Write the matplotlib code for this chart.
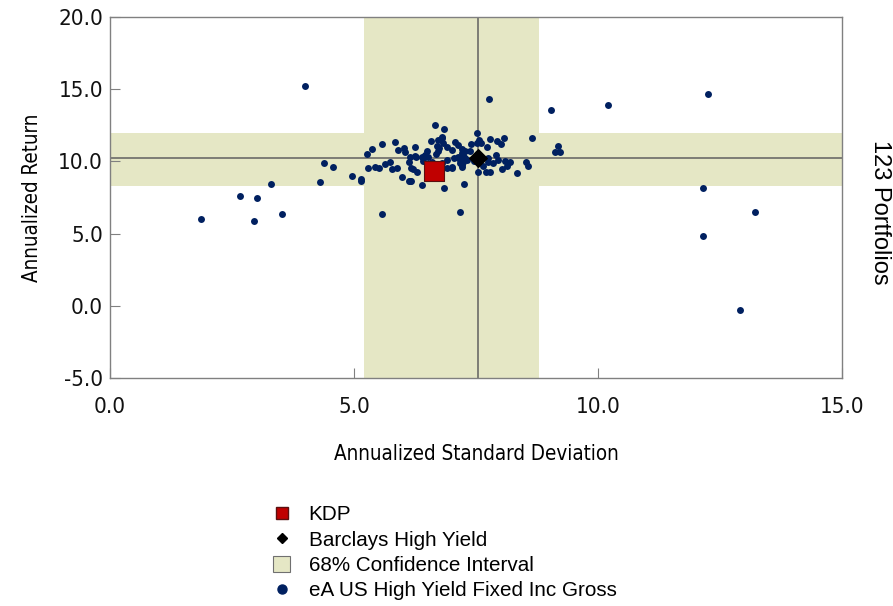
import matplotlib
matplotlib.use('agg')
import matplotlib.pyplot as plt
from matplotlib.lines import Line2D
from matplotlib.patches import Patch
from matplotlib import font_manager

plt.rcParams['font.family'] = ['Liberation Sans', 'DejaVu Sans']

# eA US High Yield Fixed Inc Gross universe (std dev, return)
peer_sd = [1.86, 2.66, 2.96, 3.02, 3.30, 3.52, 4.00, 4.30, 4.38, 4.57,
           4.95, 5.14, 5.57, 7.77, 9.03, 10.20, 12.25, 9.17, 9.11, 9.23,
           12.15, 13.21, 12.15, 12.90, 7.18, 5.26, 5.36, 5.57, 5.85, 5.91,
           6.03, 6.05, 6.24, 6.13, 6.24, 5.29, 5.42, 5.52, 5.64, 5.74,
           5.78, 5.89, 5.98, 6.17, 6.21, 6.13, 6.17, 6.65, 6.84, 6.57,
           6.73, 6.81, 6.71, 6.75, 6.72, 6.68, 6.50, 6.52, 6.27, 6.39,
           6.15, 6.30, 6.39, 6.84, 7.07, 7.14, 7.21, 7.27, 7.38, 7.00,
           7.04, 7.14, 7.17, 7.24, 7.24, 7.21, 7.27, 6.90, 7.00, 7.26,
           7.52, 7.56, 7.61, 7.55, 7.79, 7.92, 8.07, 8.01, 8.65, 7.72,
           7.90, 7.75, 7.84, 8.09, 8.20, 8.13, 8.03, 8.33, 8.52, 8.57,
           7.79, 7.70, 6.90, 6.80, 6.82, 6.80, 7.31, 7.22, 7.17, 7.00,
           7.21, 7.53, 7.75, 6.46, 6.15, 5.14, 6.42, 6.60, 7.45, 7.65,
           7.95, 6.90, 7.40]
peer_ret = [6.01, 7.63, 5.85, 7.44, 8.43, 6.36, 15.22, 8.57, 9.89, 9.59,
            8.97, 8.76, 6.34, 14.32, 13.56, 13.93, 14.65, 11.09, 10.63, 10.65,
            8.16, 6.48, 4.85, -0.27, 6.50, 10.53, 10.86, 11.18, 11.37, 10.81,
            10.95, 10.63, 11.00, 9.98, 10.35, 9.52, 9.59, 9.52, 9.82, 9.96,
            9.50, 9.52, 8.90, 9.52, 9.48, 8.67, 8.64, 12.52, 12.24, 11.43,
            11.50, 11.64, 11.09, 10.91, 10.74, 10.49, 10.72, 10.33, 10.33, 10.33,
            10.33, 9.24, 8.35, 8.14, 11.32, 11.11, 10.84, 10.74, 10.74, 10.79,
            10.22, 10.33, 10.10, 10.44, 9.98, 9.63, 10.22, 9.56, 9.56, 8.44,
            11.95, 11.48, 11.25, 9.29, 11.55, 11.41, 11.64, 11.18, 11.60, 11.00,
            10.44, 9.98, 9.87, 10.05, 9.98, 9.68, 9.45, 9.22, 9.98, 9.70,
            9.24, 9.30, 10.10, 11.71, 11.27, 9.87, 10.10, 9.75, 9.87, 9.63,
            10.56, 11.25, 10.22, 10.42, 8.64, 8.64, 10.05, 9.95, 10.05, 9.65,
            10.10, 11.00, 11.20]

kdp_sd, kdp_ret = 6.63, 9.34
bench_sd, bench_ret = 7.55, 10.24
ci_sd = (5.20, 8.79)
ci_ret = (8.30, 11.97)

band = '#E5E7C5'
navy = '#002060'

# condensed face for the axis text, if one is installed
names = {f.name for f in font_manager.fontManager.ttflist}
if 'Liberation Sans Narrow' in names:
    tick_font = dict(family='Liberation Sans Narrow', size=18)
    label_font = dict(family='Liberation Sans Narrow', size=17)
elif 'DejaVu Sans Condensed' in names or any(
        f.name == 'DejaVu Sans' and f.stretch == 'condensed' for f in font_manager.fontManager.ttflist):
    tick_font = dict(family='DejaVu Sans', stretch='condensed', size=16)
    label_font = dict(family='DejaVu Sans', stretch='condensed', size=14.8)
else:
    tick_font = dict(family='Liberation Sans', size=15.5)
    label_font = dict(family='Liberation Sans', size=15)

fig = plt.figure(figsize=(8.93, 6.06), dpi=100)
ax = fig.add_axes([0.1232, 0.3762, 0.8197, 0.5957])

ax.axvspan(ci_sd[0], ci_sd[1], color=band, lw=0, zorder=0)
ax.axhspan(ci_ret[0], ci_ret[1], color=band, lw=0, zorder=0)
ax.axvline(bench_sd, color='#606060', lw=1.1, zorder=1)
ax.axhline(bench_ret, color='#606060', lw=1.1, zorder=1)

ax.scatter(peer_sd, peer_ret, s=25, color=navy, lw=0, zorder=2)
ax.scatter([kdp_sd], [kdp_ret], marker='s', s=190, color='#C00000',
           edgecolor='#5a1010', lw=0.8, zorder=4)
ax.scatter([bench_sd], [bench_ret], marker='D', s=80, color='black', zorder=3)

ax.set_xlim(0, 15)
ax.set_ylim(-5, 20)
ax.set_xticks([0, 5, 10, 15])
ax.set_yticks([-5, 0, 5, 10, 15, 20])
ax.set_xticklabels(['%.1f' % v for v in [0, 5, 10, 15]])
ax.set_yticklabels(['%.1f' % v for v in [-5, 0, 5, 10, 15, 20]])

for lab in ax.get_xticklabels() + ax.get_yticklabels():
    lab.set_fontproperties(font_manager.FontProperties(**tick_font))
    lab.set_color('#111111')
ax.tick_params(axis='both', direction='in', length=7, color='#808080',
               top=False, right=False)
ax.tick_params(axis='x', pad=14)
ax.tick_params(axis='y', pad=5)
for sp in ax.spines.values():
    sp.set_color('#808080')
    sp.set_linewidth(1)

ax.set_xlabel('Annualized Standard Deviation',
              fontproperties=font_manager.FontProperties(**label_font), labelpad=19)
ax.set_ylabel('Annualized Return',
              fontproperties=font_manager.FontProperties(**label_font), labelpad=12)

fig.text(0.985, 0.650, '123 Portfolios', rotation=-90, ha='center', va='center',
         fontsize=17)

handles = [
    Line2D([], [], marker='s', ls='', color='#C00000', markeredgecolor='#5a1010', markersize=8),
    Line2D([], [], marker='D', ls='', color='black', markersize=5.5),
    Patch(facecolor=band, edgecolor='#707070', lw=0.8),
    Line2D([], [], marker='o', ls='', color=navy, markersize=6.5),
]
labels = ['KDP', 'Barclays High Yield', '68% Confidence Interval',
          'eA US High Yield Fixed Inc Gross']
fig.legend(handles, labels, loc='upper left', bbox_to_anchor=(0.297, 0.18),
           frameon=False, fontsize=14.9, handlelength=0.8, handleheight=0.8,
           handletextpad=0.9, labelspacing=0.3, borderaxespad=0)

fig.savefig('out.png', dpi=100)
